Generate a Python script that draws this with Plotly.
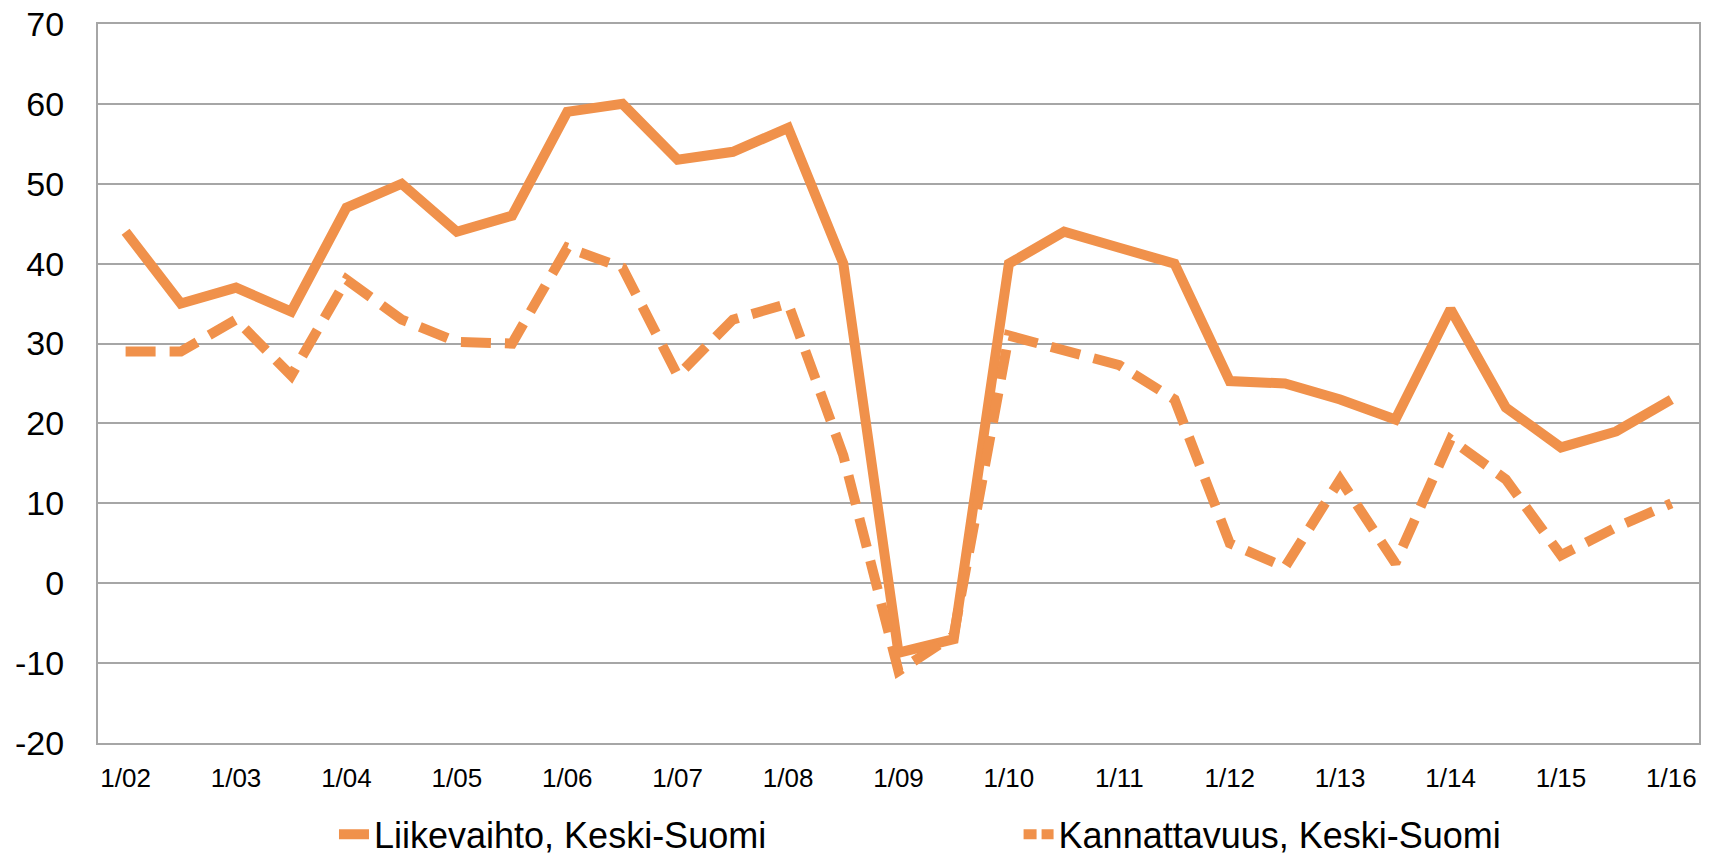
import plotly.graph_objects as go

# Half-year periods 1/02 ... 1/16 (29 points); labels only on January
periods = []
for yr in range(2, 17):
    periods.append(f"1/{yr:02d}")
    if yr < 16:
        periods.append(f"7/{yr:02d}")
tick_labels = [p if p.startswith("1/") else "" for p in periods]

liikevaihto = [44, 35, 37, 34, 47, 50, 44, 46, 59, 60, 53, 54, 57, 40, -8.7,
               -7, 40, 44, 42, 40, 25.3, 25, 23, 20.5, 34.3, 22, 17, 19, 23]
kannattavuus = [29, 29, 33, 26, 38, 33, 30.2, 30, 42, 39.5, 26, 33, 35, 16, -11,
                -6.5, 31, 29, 27.3, 23, 5, 2, 13, 2.5, 18, 13, 3.5, 7, 10]

y_ticks = [-20, -10, 0, 10, 20, 30, 40, 50, 60, 70]
y_tick_text = [str(v) for v in y_ticks]  # plain hyphen-minus as in the original

name1 = "Liikevaihto, Keski-Suomi"
name2 = "Kannattavuus, Keski-Suomi"
orange = "#F0914B"

x_idx = list(range(len(periods)))

fig = go.Figure()
fig.add_trace(go.Scatter(x=x_idx, y=liikevaihto, mode="lines", name=name1,
                         line=dict(color=orange, width=10), legend="legend"))
fig.add_trace(go.Scatter(x=x_idx, y=kannattavuus, mode="lines", name=name2,
                         line=dict(color=orange, width=10, dash="30px,14px"),
                         showlegend=False))
# legend entry for the dashed series (short sample needs a shorter dash to show)
fig.add_trace(go.Scatter(x=[None], y=[None], mode="lines", name=name2,
                         line=dict(color=orange, width=10, dash="13px,5px"),
                         legend="legend2", hoverinfo="skip"))

grid = "#A6A6A6"
fig.update_layout(
    width=1714, height=853,
    margin=dict(l=90, r=23, t=16, b=118, autoexpand=False),
    paper_bgcolor="white", plot_bgcolor="white",
    font=dict(family="Liberation Sans", color="black"),
    xaxis=dict(
        range=[-0.5, 28.5], tickmode="array", tickvals=x_idx, ticktext=tick_labels,
        showgrid=False, showline=True, linecolor=grid, linewidth=2, mirror=True,
        ticks="", tickfont=dict(family="Liberation Sans", size=26, color="black"),
        ticklabelstandoff=11, zeroline=False, automargin=False,
        ticklabeloverflow="allow",
    ),
    yaxis=dict(
        range=[-20, 70], tickmode="array", tickvals=y_ticks, ticktext=y_tick_text,
        showgrid=True, gridcolor=grid, gridwidth=2,
        showline=True, linecolor=grid, linewidth=2, mirror=True, zeroline=False,
        ticks="", tickfont=dict(family="Liberation Sans", size=34, color="black"),
        ticklabelstandoff=25, automargin=False, ticklabeloverflow="allow",
    ),
    legend=dict(orientation="h", x=0.1474, xanchor="left", y=-0.127, yanchor="middle",
                font=dict(size=36, family="Liberation Sans", color="black"),
                bgcolor="rgba(0,0,0,0)"),
    legend2=dict(orientation="h", x=0.575, xanchor="left", y=-0.127, yanchor="middle",
                 font=dict(size=36, family="Liberation Sans", color="black"),
                 bgcolor="rgba(0,0,0,0)"),
    showlegend=True,
)

fig.write_html("out.html")
